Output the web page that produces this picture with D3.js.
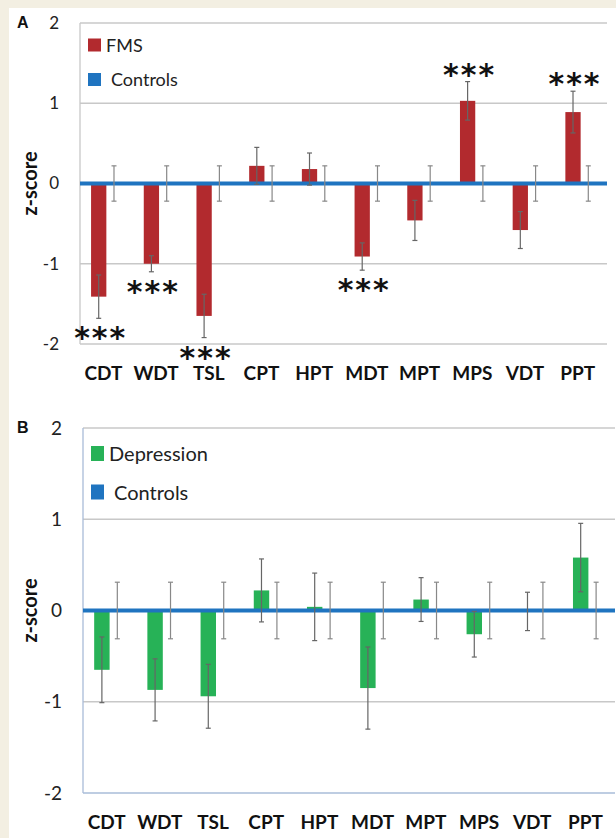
<!DOCTYPE html>
<html>
<head>
<meta charset="utf-8">
<script src="https://cdn.jsdelivr.net/npm/d3@7"></script>
<style>
  html, body { margin: 0; padding: 0; background: #fff; }
  svg { display: block; }
</style>
</head>
<body>
<svg id="svg"></svg>
<script>
var width = 616;
var height = 838;

// sensory test categories (x axis, same for both panels)
const categories = ["CDT", "WDT", "TSL", "CPT", "HPT", "MDT", "MPT", "MPS", "VDT", "PPT"];
const yTicks = [-2, -1, 0, 1, 2];

// panel A: FMS vs controls
const fmsMeans  = [-1.41, -1.00, -1.65, 0.22, 0.18, -0.91, -0.46, 1.03, -0.58, 0.89];
const fmsErrors = [0.27, 0.10, 0.27, 0.23, 0.20, 0.17, 0.25, 0.24, 0.23, 0.26];
const fmsControlMeans  = [0, 0, 0, 0, 0, 0, 0, 0, 0, 0];
const fmsControlErrors = [0.22, 0.22, 0.22, 0.22, 0.22, 0.22, 0.22, 0.22, 0.22, 0.22];
const fmsSignificant = ["CDT", "WDT", "TSL", "MDT", "MPS", "PPT"];

// panel B: depression vs controls
const depMeans  = [-0.65, -0.87, -0.94, 0.22, 0.04, -0.85, 0.12, -0.26, -0.01, 0.58];
const depErrors = [0.36, 0.34, 0.35, 0.345, 0.37, 0.45, 0.24, 0.25, 0.21, 0.375];
const depControlMeans  = [0, 0, 0, 0, 0, 0, 0, 0, 0, 0];
const depControlErrors = [0.31, 0.31, 0.31, 0.31, 0.31, 0.31, 0.31, 0.31, 0.31, 0.31];
const depSignificant = [];

const blue = "#1f74c0";

var svg = d3.select("#svg")
    .attr("width", width)
    .attr("height", height)
    .attr("viewBox", [0, 0, width, height]);

// beige page edges
svg.append("rect").attr("x", 0).attr("y", 0).attr("width", width).attr("height", 8).attr("fill", "#f3efe2");
svg.append("rect").attr("x", 0).attr("y", 0).attr("width", 9).attr("height", height).attr("fill", "#f3efe2");

function drawPanel(p) {
  var g = svg.append("g");

  var x = d3.scaleBand().domain(categories).range([p.left, p.right]);
  var y = d3.scaleLinear().domain([-2, 2]).range([p.bottom, p.top]);
  var bw = x.bandwidth() * 0.29;
  var cx = d => x(d) + x.bandwidth() / 2;

  var rows = categories.map((c, i) => ({
    cat: c, v: p.means[i], e: p.errors[i], cv: p.ctrlMeans[i], ce: p.ctrlErrors[i]
  }));

  // gridlines
  g.append("g").selectAll("line").data(yTicks).join("line")
      .attr("x1", p.left).attr("x2", p.right)
      .attr("y1", d => y(d)).attr("y2", d => y(d))
      .attr("stroke", d => d === -2 ? p.axisColor : "#c8c8c8")
      .attr("stroke-width", 1.3);
  g.append("line")
      .attr("x1", p.left).attr("x2", p.left)
      .attr("y1", y(2)).attr("y2", y(-2))
      .attr("stroke", p.axisColor).attr("stroke-width", 1.3);

  // y tick labels
  g.append("g").selectAll("text").data(yTicks).join("text")
      .attr("x", p.tickX).attr("y", d => y(d))
      .attr("dy", "0.35em")
      .attr("text-anchor", "end")
      .attr("font-family", "Lato, sans-serif")
      .attr("font-size", p.tickSize)
      .attr("fill", "#222")
      .text(d => d);

  // bars
  g.append("g").selectAll("rect").data(rows).join("rect")
      .attr("x", d => cx(d.cat) - bw)
      .attr("width", bw)
      .attr("y", d => y(Math.max(0, d.v)))
      .attr("height", d => Math.abs(y(d.v) - y(0)))
      .attr("fill", p.color);

  // controls line at zero
  g.append("path")
      .datum(rows)
      .attr("d", d3.line().x((d, i) => i === 0 ? p.left : (i === rows.length - 1 ? p.right : cx(d.cat))).y(d => y(d.cv)))
      .attr("fill", "none")
      .attr("stroke", blue)
      .attr("stroke-width", 4);

  // error bars
  function errorBars(sel, xpos, mean, err, col) {
    var eg = sel.append("g").attr("stroke", col).attr("stroke-width", 1.2);
    eg.selectAll(".v").data(rows).join("line")
        .attr("x1", xpos).attr("x2", xpos)
        .attr("y1", d => y(mean(d) + err(d))).attr("y2", d => y(mean(d) - err(d)));
    [1, -1].forEach(s => {
      eg.selectAll(".c" + (s > 0 ? "t" : "b")).data(rows).join("line")
          .attr("x1", d => xpos(d) - 2.5).attr("x2", d => xpos(d) + 2.5)
          .attr("y1", d => y(mean(d) + s * err(d))).attr("y2", d => y(mean(d) + s * err(d)));
    });
  }
  errorBars(g, d => cx(d.cat) - bw / 2, d => d.v, d => d.e, "#666");
  errorBars(g, d => cx(d.cat) + bw / 2, d => d.cv, d => d.ce, "#888");

  // significance stars
  g.append("g").selectAll("text").data(rows.filter(d => p.sig.includes(d.cat))).join("text")
      .attr("x", d => cx(d.cat) - bw / 2 + 2)
      .attr("y", d => d.v > 0 ? y(d.v + d.e) - 12 + 15 : y(d.v - d.e) + 15 + 15)
      .attr("text-anchor", "middle")
      .attr("font-family", "DejaVu Sans, sans-serif")
      .attr("font-weight", "bold")
      .attr("font-size", 30)
      .attr("letter-spacing", 2)
      .attr("fill", "#111")
      .text("***");

  // x labels
  g.append("g").selectAll("text").data(categories).join("text")
      .attr("x", d => cx(d) - 3)
      .attr("y", p.labelY)
      .attr("text-anchor", "middle")
      .attr("font-family", "Lato, sans-serif")
      .attr("font-weight", "bold")
      .attr("font-size", 19)
      .attr("fill", "#111")
      .text(d => d);

  // y title
  g.append("text")
      .attr("transform", "translate(" + p.titleX + "," + y(0) + ") rotate(-90)")
      .attr("dy", "0.35em")
      .attr("text-anchor", "middle")
      .attr("font-family", "Lato, sans-serif")
      .attr("font-weight", "bold")
      .attr("font-size", 20)
      .attr("fill", "#111")
      .text("z-score");

  // panel letter
  g.append("text")
      .attr("x", 17).attr("y", p.top + 5)
      .attr("font-family", "Liberation Sans, Arial, sans-serif")
      .attr("font-weight", "bold")
      .attr("font-size", 16)
      .attr("fill", "#111")
      .text(p.letter);

  // legend
  var lg = g.append("g").attr("font-family", "Lato, sans-serif").attr("font-size", p.legendSize).attr("fill", "#222");
  var items = [{ name: p.name, color: p.color, dx: 0 }, { name: "Controls", color: blue, dx: 5 }];
  items.forEach((it, i) => {
    var ly = p.legendY + i * p.legendGap;
    lg.append("rect").attr("x", p.left + 8).attr("y", ly - p.legendBox)
        .attr("width", 13).attr("height", p.legendBox).attr("fill", it.color);
    lg.append("text").attr("x", p.left + 26 + it.dx).attr("y", ly).text(it.name);
  });
}

drawPanel({
  letter: "A", name: "FMS", color: "#b22a2e",
  means: fmsMeans, errors: fmsErrors, ctrlMeans: fmsControlMeans, ctrlErrors: fmsControlErrors, sig: fmsSignificant,
  left: 80, right: 607, top: 23, bottom: 344,
  axisColor: "#c8c8c8", tickX: 59, tickSize: 17, labelY: 380, titleX: 30,
  legendY: 51.5, legendGap: 34.5, legendBox: 13, legendSize: 18
});

drawPanel({
  letter: "B", name: "Depression", color: "#27b257",
  means: depMeans, errors: depErrors, ctrlMeans: depControlMeans, ctrlErrors: depControlErrors, sig: depSignificant,
  left: 83, right: 615, top: 428, bottom: 793,
  axisColor: "#a9bcd8", tickX: 62, tickSize: 19, labelY: 829, titleX: 30,
  legendY: 461, legendGap: 38.5, legendBox: 15, legendSize: 20
});
</script>
</body>
</html>
